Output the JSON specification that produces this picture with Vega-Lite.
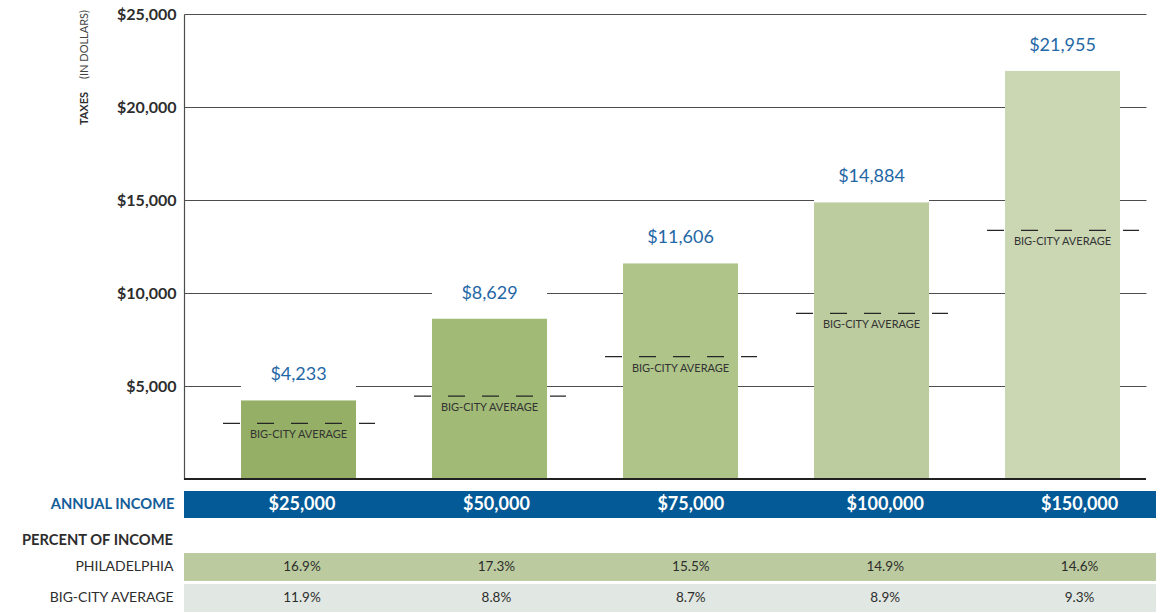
{
  "$schema": "https://vega.github.io/schema/vega-lite/v6.json",
  "padding": {"left": 21, "top": 6, "right": 0, "bottom": 0},
  "background": "white",
  "config": {"view": {"stroke": null}, "font": "Lato"},
  "resolve": {"scale": {"x": "independent", "y": "independent", "color": "independent"}},
  "spacing": 11,
  "vconcat": [
    {
      "width": 962,
      "height": 465,
      "data": {"values": [
        {"income": "$25,000", "tax": 4233, "avg": 2990},
        {"income": "$50,000", "tax": 8629, "avg": 4460},
        {"income": "$75,000", "tax": 11606, "avg": 6575},
        {"income": "$100,000", "tax": 14884, "avg": 8908},
        {"income": "$150,000", "tax": 21955, "avg": 13370}
      ]},
      "resolve": {"axis": {"y": "independent"}},
      "layer": [
        {
          "mark": {"type": "bar"},
          "encoding": {
            "x": {"field": "income", "type": "nominal", "sort": null, "axis": null,
                  "scale": {"paddingInner": 0.3979, "paddingOuter": 0.2173, "align": 0.687}},
            "y": {"field": "tax", "type": "quantitative",
                  "scale": {"domain": [0, 25000], "nice": false},
                  "axis": {
                    "values": [5000, 10000, 15000, 20000, 25000],
                    "format": "$,.0f",
                    "grid": true, "gridColor": "#4d4d4d", "gridWidth": 1,
                    "ticks": false,
                    "domain": true, "domainColor": "#4d4d4d", "domainWidth": 1.2,
                    "labelFont": "Lato", "labelFontWeight": "bold", "labelFontSize": 16,
                    "labelColor": "#2d2d2d", "labelPadding": 8,
                    "title": "TAXES", "titleFont": "Lato", "titleFontWeight": "bold", "titleFontSize": 11,
                    "titleColor": "#2d2d2d", "titleAngle": -90, "titleX": -100, "titleY": 94,
                    "titleAlign": "center", "titleBaseline": "middle"
                  }},
            "color": {"field": "income", "type": "nominal", "sort": null, "legend": null,
                      "scale": {"range": ["#95af66", "#a1ba76", "#aec489", "#bccc9f", "#cbd7b3"]}}
          }
        },
        {
          "mark": {"type": "rect", "fill": "white", "y2Offset": -40},
          "encoding": {
            "x": {"field": "income", "type": "nominal", "sort": null},
            "y": {"field": "tax", "type": "quantitative", "axis": null},
            "y2": {"field": "tax"}
          }
        },
        {
          "mark": {"type": "rule", "color": "#262626", "strokeWidth": 1.3, "strokeDash": [17, 17], "xOffset": -18, "x2Offset": 19},
          "encoding": {
            "x": {"field": "income", "type": "nominal", "sort": null, "bandPosition": 0},
            "x2": {"field": "income", "bandPosition": 1},
            "y": {"field": "avg", "type": "quantitative", "axis": null}
          }
        },
        {
          "mark": {"type": "text", "color": "#333333", "fontSize": 11, "dy": 12, "baseline": "middle", "font": "Lato"},
          "encoding": {
            "x": {"field": "income", "type": "nominal", "sort": null},
            "y": {"field": "avg", "type": "quantitative", "axis": null},
            "text": {"value": "BIG-CITY AVERAGE"}
          }
        },
        {
          "mark": {"type": "text", "color": "#1f67a6", "fontSize": 18, "dy": -25, "baseline": "middle", "font": "Lato"},
          "encoding": {
            "x": {"field": "income", "type": "nominal", "sort": null},
            "y": {"field": "tax", "type": "quantitative", "axis": null},
            "text": {"field": "tax", "type": "quantitative", "format": "$,.0f"}
          }
        },
        {
          "mark": {"type": "rule", "color": "#222222", "strokeWidth": 1.4},
          "encoding": {
            "y": {"datum": 0, "type": "quantitative",
                  "axis": {"title": "(IN DOLLARS)", "labels": false, "ticks": false, "domain": false, "grid": false,
                           "orient": "left", "titleX": -100, "titleY": 30, "titleAngle": -90,
                           "titleAlign": "center", "titleBaseline": "middle", "titleFont": "Lato",
                           "titleFontWeight": "normal", "titleFontSize": 11, "titleColor": "#444444"}}
          }
        }
      ]
    },
    {
      "width": 972,
      "height": 27,
      "data": {"values": [
        {"income": "$25,000"}, {"income": "$50,000"}, {"income": "$75,000"}, {"income": "$100,000"}, {"income": "$150,000"}
      ]},
      "layer": [
        {
          "mark": {"type": "rect", "color": "#035a97"},
          "encoding": {
            "y": {"datum": "ANNUAL INCOME", "type": "nominal",
                  "scale": {"paddingInner": 0, "paddingOuter": 0},
                  "axis": {"title": null, "ticks": false, "domain": false, "labelFont": "Lato",
                           "labelFontWeight": "bold", "labelFontSize": 14.7, "labelColor": "#135d99", "labelPadding": 10}}
          }
        },
        {
          "mark": {"type": "text", "color": "white", "fontWeight": "bold", "fontSize": 18, "font": "Lato"},
          "encoding": {
            "x": {"field": "income", "type": "nominal", "sort": null, "axis": null,
                  "scale": {"paddingInner": 0.4, "paddingOuter": 0.2364, "align": 0.607}},
            "y": {"datum": "ANNUAL INCOME", "type": "nominal"},
            "text": {"field": "income"}
          }
        }
      ]
    },
    {
      "width": 972,
      "height": 59,
      "title": {"text": ["", "PERCENT OF INCOME"], "lineHeight": 3.5, "anchor": "start", "align": "right", "dx": -11, "offset": 5.5,
                "fontSize": 14.7, "fontWeight": "bold", "color": "#2d2d2d", "font": "Lato", "frame": "group"},
      "data": {"values": [
        {"income": "$25,000", "row": "PHILADELPHIA", "pct": "16.9%"},
        {"income": "$50,000", "row": "PHILADELPHIA", "pct": "17.3%"},
        {"income": "$75,000", "row": "PHILADELPHIA", "pct": "15.5%"},
        {"income": "$100,000", "row": "PHILADELPHIA", "pct": "14.9%"},
        {"income": "$150,000", "row": "PHILADELPHIA", "pct": "14.6%"},
        {"income": "$25,000", "row": "BIG-CITY AVERAGE", "pct": "11.9%"},
        {"income": "$50,000", "row": "BIG-CITY AVERAGE", "pct": "8.8%"},
        {"income": "$75,000", "row": "BIG-CITY AVERAGE", "pct": "8.7%"},
        {"income": "$100,000", "row": "BIG-CITY AVERAGE", "pct": "8.9%"},
        {"income": "$150,000", "row": "BIG-CITY AVERAGE", "pct": "9.3%"}
      ]},
      "layer": [
        {
          "mark": {"type": "rect"},
          "encoding": {
            "y": {"field": "row", "type": "nominal", "sort": ["PHILADELPHIA", "BIG-CITY AVERAGE"],
                  "scale": {"paddingInner": 0.13, "paddingOuter": 0},
                  "axis": {"title": null, "ticks": false, "domain": false, "labelFont": "Lato",
                           "labelFontSize": 14, "labelColor": "#2d2d2d", "labelPadding": 11}},
            "color": {"field": "row", "type": "nominal", "legend": null,
                      "scale": {"domain": ["PHILADELPHIA", "BIG-CITY AVERAGE"], "range": ["#bccb9f", "#e1e7e2"]}}
          }
        },
        {
          "mark": {"type": "text", "color": "#2d2d2d", "fontSize": 13.5, "font": "Lato"},
          "encoding": {
            "x": {"field": "income", "type": "nominal", "sort": null, "axis": null,
                  "scale": {"paddingInner": 0.4, "paddingOuter": 0.2364, "align": 0.607}},
            "y": {"field": "row", "type": "nominal", "sort": ["PHILADELPHIA", "BIG-CITY AVERAGE"]},
            "text": {"field": "pct"}
          }
        }
      ]
    }
  ]
}
